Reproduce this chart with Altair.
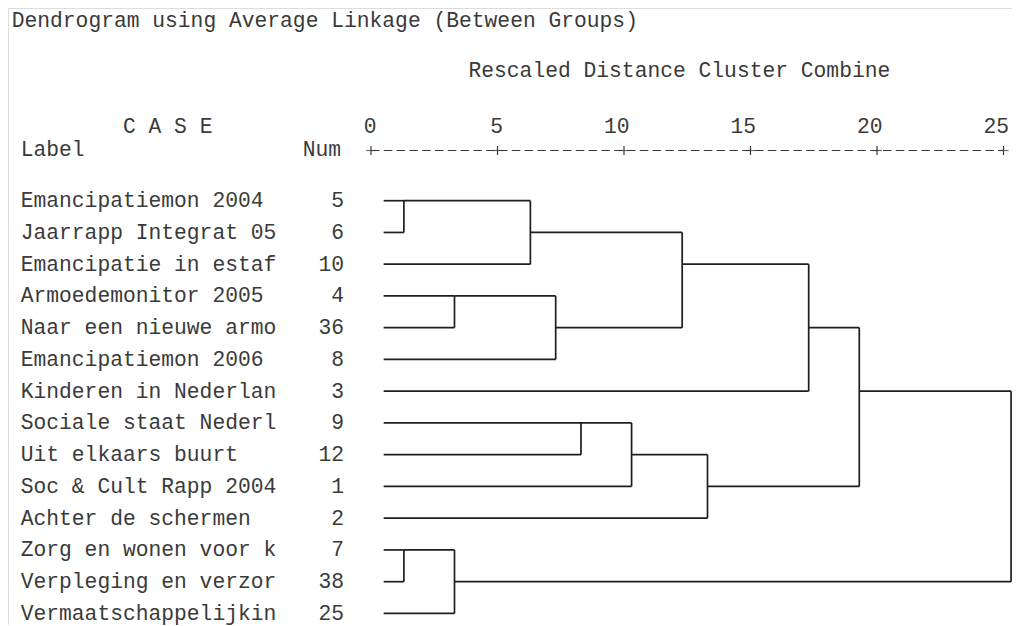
import altair as alt
import pandas as pd

# ---------------- data ----------------
TITLE = "Dendrogram using Average Linkage (Between Groups)"
SUBTITLE = "Rescaled Distance Cluster Combine"
CASE_HEAD = "C A S E"
LABEL_HEAD = "Label"
NUM_HEAD = "Num"

labels = [
    "Emancipatiemon 2004",
    "Jaarrapp Integrat 05",
    "Emancipatie in estaf",
    "Armoedemonitor 2005",
    "Naar een nieuwe armo",
    "Emancipatiemon 2006",
    "Kinderen in Nederlan",
    "Sociale staat Nederl",
    "Uit elkaars buurt",
    "Soc & Cult Rapp 2004",
    "Achter de schermen",
    "Zorg en wonen voor k",
    "Verpleging en verzor",
    "Vermaatschappelijkin",
]
nums = [5, 6, 10, 4, 36, 8, 3, 9, 12, 1, 2, 7, 38, 25]

# merges: clusters 0..13 are the leaves (rows), merge i creates cluster 14+i
merge_a = [0, 11, 3, 15, 14, 16, 7, 20, 18, 21, 22, 24, 25]
merge_b = [1, 12, 4, 13, 2, 5, 8, 9, 19, 10, 6, 23, 17]
merge_h = [1.3, 1.3, 3.3, 3.3, 6.3, 7.3, 8.3, 10.3, 12.3, 13.3, 17.3, 19.3, 25.3]

axis_ticks = [0, 5, 10, 15, 20, 25]
LEAF_START = 0.5

# ---------------- layout ----------------
W, H = 1004, 617
X0 = 363.0     # plot px of distance 0
PXU = 25.3     # px per distance unit
Y0 = 192.7     # plot px of row 0
PXR = 31.75    # px per row

FONT = "Liberation Mono"
FS = 21.3
TXT = "#3a3a3a"
LINE = "#1e1e1e"

xs = alt.Scale(domain=[-X0 / PXU, (W - X0) / PXU], nice=False, zero=False)
ys = alt.Scale(domain=[-Y0 / PXR, (H - Y0) / PXR], nice=False, zero=False, reverse=True)

# build segments from the merge structure
row = {i: float(i) for i in range(len(labels))}
start = {i: LEAF_START for i in range(len(labels))}
segs = []
for k, (a, b, h) in enumerate(zip(merge_a, merge_b, merge_h)):
    cid = len(labels) + k
    for c in (a, b):
        segs.append({"x": start[c], "x2": h, "y": row[c], "y2": row[c]})
    segs.append({"x": h, "x2": h, "y": row[a], "y2": row[b]})
    row[cid] = float(int((row[a] + row[b]) // 2))
    start[cid] = h
seg_df = pd.DataFrame(segs)

leaf_df = pd.DataFrame({"row": list(range(len(labels))), "label": labels, "num": [str(n) for n in nums]})
tick_df = pd.DataFrame({"t": axis_ticks})
axis_df = pd.DataFrame({"a": [min(axis_ticks)], "b": [max(axis_ticks)]})

x_axis = alt.Axis(
    orient="top", values=axis_ticks, offset=-142.5, domain=False, ticks=False, grid=False,
    labelFont=FONT, labelFontSize=FS, labelColor=TXT, labelPadding=17.6,
    labelBaseline="alphabetic", labelAlign="right", labelOffset=5,
    labelFlush=False, labelOverlap=False, title=None, format="d",
)

tree = alt.Chart(seg_df).mark_rule(stroke=LINE, strokeWidth=1.7).encode(
    x=alt.X("x:Q", scale=xs, axis=x_axis),
    x2="x2:Q",
    y=alt.Y("y:Q", scale=ys, axis=None),
    y2="y2:Q",
)

txt = dict(font=FONT, fontSize=FS, color=TXT, baseline="alphabetic")

leaf_labels = alt.Chart(leaf_df).mark_text(align="left", dy=6.4, **txt).encode(
    x=alt.value(12.7), y=alt.Y("row:Q", scale=ys, axis=None), text="label:N"
)
leaf_nums = alt.Chart(leaf_df).mark_text(align="right", dy=6.4, **txt).encode(
    x=alt.value(336), y=alt.Y("row:Q", scale=ys, axis=None), text="num:N"
)

def header(s, x, y, align="left"):
    return alt.Chart(pd.DataFrame({"s": [s]})).mark_text(align=align, **txt).encode(
        x=alt.value(x), y=alt.value(y), text="s:N"
    )

h_title = header(TITLE, 3.7, 19.3)
h_sub = header(SUBTITLE, 460.5, 68.9)
h_case = header(CASE_HEAD, 115, 124.9)
h_label = header(LABEL_HEAD, 12.7, 148.4)
h_num = header(NUM_HEAD, 333, 148.4, "right")

axis_line = alt.Chart(axis_df).mark_rule(stroke=TXT, strokeWidth=1.2, strokeDash=[8.5, 4.3]).encode(
    x=alt.X("a:Q", scale=xs), x2="b:Q", y=alt.value(142.5)
)
plus_v = alt.Chart(tick_df).mark_rule(stroke=TXT, strokeWidth=1.2).encode(
    x=alt.X("t:Q", scale=xs), y=alt.value(138), y2=alt.value(147)
)
plus_h = alt.Chart(tick_df).mark_tick(color=TXT, thickness=1.2, size=10, orient="horizontal").encode(
    x=alt.X("t:Q", scale=xs), y=alt.value(142.5)
)

chart = alt.layer(
    tree, leaf_labels, leaf_nums, h_title, h_sub, h_case, h_label, h_num,
    axis_line, plus_v, plus_h,
).properties(
    width=W, height=H, padding=0, autosize=alt.AutoSizeParams(type="none"),
).configure_view(
    stroke="transparent", strokeWidth=0, strokeOpacity=0, fill="white"
).configure(background="white")

chart.save("out.html", embed_options={"renderer": "svg", "actions": False})
